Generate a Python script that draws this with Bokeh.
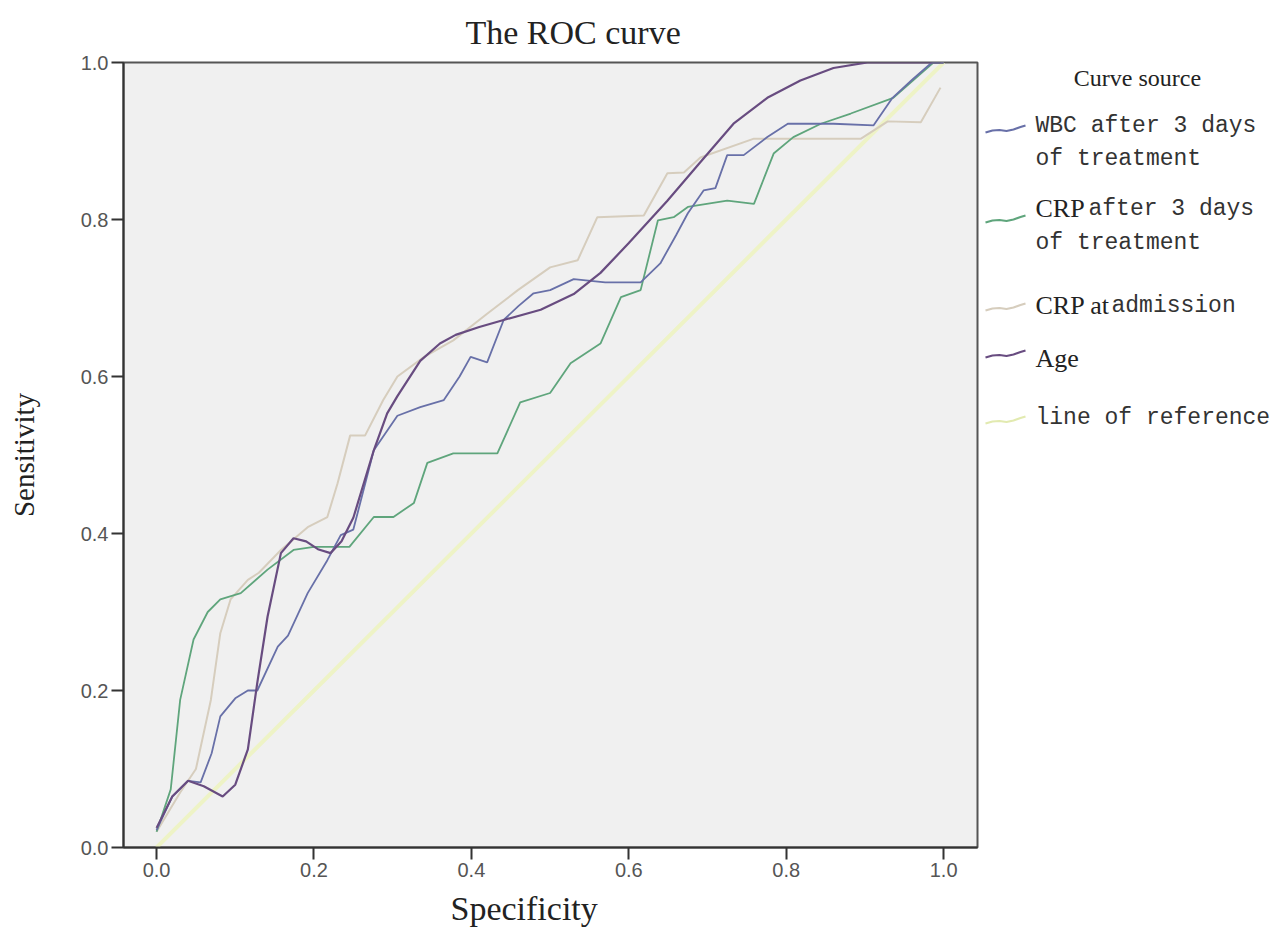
from bokeh.plotting import figure
from bokeh.layouts import row
from bokeh.models import Range1d, FixedTicker, Title
from bokeh.core.properties import value
from bokeh.embed import file_html
from bokeh.resources import INLINE

# ---------------- data ----------------
age_x = [0.0, 0.02, 0.04, 0.06, 0.084, 0.10, 0.116, 0.128, 0.141, 0.158, 0.174, 0.19, 0.205, 0.221,
         0.235, 0.25, 0.276, 0.293, 0.306, 0.335, 0.36, 0.38, 0.41, 0.441, 0.488, 0.53, 0.564, 0.60,
         0.649, 0.69, 0.733, 0.776, 0.818, 0.86, 0.903, 1.0]
age_y = [0.025, 0.065, 0.085, 0.078, 0.065, 0.08, 0.125, 0.21, 0.294, 0.375, 0.394, 0.39, 0.38, 0.375,
         0.39, 0.42, 0.506, 0.553, 0.575, 0.62, 0.642, 0.653, 0.663, 0.672, 0.685, 0.705, 0.732, 0.77,
         0.824, 0.872, 0.922, 0.955, 0.977, 0.993, 1.0, 1.0]

wbc_x = [0.0, 0.02, 0.04, 0.056, 0.07, 0.081, 0.10, 0.116, 0.128, 0.154, 0.167, 0.192, 0.217, 0.234,
         0.25, 0.276, 0.306, 0.335, 0.365, 0.385, 0.399, 0.42, 0.441, 0.46, 0.479, 0.50, 0.53, 0.57,
         0.615, 0.64, 0.66, 0.675, 0.695, 0.71, 0.725, 0.746, 0.776, 0.802, 0.86, 0.911, 0.935, 0.96,
         0.985, 1.0]
wbc_y = [0.022, 0.065, 0.085, 0.083, 0.12, 0.167, 0.19, 0.20, 0.20, 0.256, 0.27, 0.324, 0.366, 0.398,
         0.405, 0.506, 0.55, 0.561, 0.57, 0.60, 0.625, 0.618, 0.672, 0.69, 0.706, 0.71, 0.724, 0.72,
         0.72, 0.744, 0.78, 0.808, 0.837, 0.84, 0.882, 0.882, 0.905, 0.922, 0.922, 0.92, 0.955, 0.978,
         1.0, 1.0]

crp3_x = [0.0, 0.018, 0.03, 0.047, 0.065, 0.081, 0.107, 0.141, 0.174, 0.20, 0.245, 0.276, 0.301, 0.327,
          0.344, 0.377, 0.433, 0.462, 0.50, 0.526, 0.564, 0.59, 0.615, 0.637, 0.657, 0.675, 0.725,
          0.759, 0.784, 0.809, 0.844, 0.882, 0.936, 0.971, 0.987, 1.0]
crp3_y = [0.02, 0.074, 0.188, 0.265, 0.30, 0.316, 0.324, 0.354, 0.379, 0.383, 0.383, 0.421, 0.421, 0.439,
          0.49, 0.502, 0.502, 0.567, 0.579, 0.617, 0.642, 0.701, 0.71, 0.799, 0.803, 0.816, 0.824,
          0.82, 0.884, 0.905, 0.922, 0.935, 0.955, 0.986, 1.0, 1.0]

crpa_x = [0.0, 0.03, 0.05, 0.069, 0.081, 0.094, 0.116, 0.13, 0.158, 0.192, 0.217, 0.23, 0.246, 0.265,
          0.288, 0.306, 0.34, 0.377, 0.42, 0.459, 0.50, 0.535, 0.56, 0.619, 0.649, 0.67, 0.691, 0.759,
          0.895, 0.929, 0.971, 0.996]
crpa_y = [0.02, 0.07, 0.10, 0.188, 0.273, 0.316, 0.341, 0.35, 0.379, 0.408, 0.421, 0.464, 0.525, 0.525,
          0.57, 0.60, 0.625, 0.646, 0.68, 0.71, 0.739, 0.748, 0.803, 0.805, 0.859, 0.86, 0.879, 0.903,
          0.903, 0.925, 0.924, 0.968]

ref_x = [0.0, 1.0]
ref_y = [0.0, 1.0]

ticks = [0.0, 0.2, 0.4, 0.6, 0.8, 1.0]
tick_labels = {0.0: "0.0", 0.2: "0.2", 0.4: "0.4", 0.6: "0.6", 0.8: "0.8", 1.0: "1.0"}

legend_texts = ["WBC after 3 days", "of treatment", "CRP", "after 3 days", "of treatment",
                "CRP at", "admission", "Age", "line of reference"]

C_AGE = "#684c80"
C_WBC = "#6870a8"
C_CRP3 = "#5fa57c"
C_CRPA = "#d6cdbd"
C_REF = "#eef3c6"

H = 941
TOP = 62
BOTTOM = 94

# ---------------- main plot ----------------
p = figure(width=980, height=H, output_backend="svg", toolbar_location=None,
           x_range=Range1d(-0.042, 1.043), y_range=Range1d(0.0, 1.0),
           min_border_left=123, min_border_right=3, min_border_top=TOP, min_border_bottom=BOTTOM)
p.background_fill_color = "#f0f0f0"
p.border_fill_color = "white"
p.outline_line_color = "#555555"
p.outline_line_width = 2
p.grid.visible = False

p.title.text = "The ROC curve"
p.title.align = "left"
p.title.offset = 342
p.title.text_font = "Liberation Serif"
p.title.text_font_style = "normal"
p.title.text_font_size = "34px"
p.title.text_color = "#222222"
p.title.standoff = 23

p.line(ref_x, ref_y, line_color=C_REF, line_width=4)
p.line(crpa_x, crpa_y, line_color=C_CRPA, line_width=2)
p.line(crp3_x, crp3_y, line_color=C_CRP3, line_width=1.8)
p.line(wbc_x, wbc_y, line_color=C_WBC, line_width=1.8)
p.line(age_x, age_y, line_color=C_AGE, line_width=2.2)

for ax in (p.xaxis[0], p.yaxis[0]):
    ax.ticker = FixedTicker(ticks=ticks)
    ax.major_label_overrides = tick_labels
    ax.minor_tick_line_color = None
    ax.major_tick_in = 0
    ax.major_tick_out = 12
    ax.major_tick_line_color = "#333333"
    ax.major_tick_line_width = 2
    ax.axis_line_color = "#333333"
    ax.axis_line_width = 2
    ax.major_label_text_font = "Liberation Sans"
    ax.major_label_text_font_size = "20px"
    ax.major_label_text_color = "#555555"
    ax.major_label_standoff = 3

p.yaxis[0].axis_label = "Sensitivity"
p.yaxis[0].axis_label_text_font = "Liberation Serif"
p.yaxis[0].axis_label_text_font_style = "normal"
p.yaxis[0].axis_label_text_font_size = "29px"
p.yaxis[0].axis_label_text_color = "#222222"
p.yaxis[0].axis_label_standoff = 38

xlabel = Title(text="Specificity", align="left", offset=327,
               text_font="Liberation Serif", text_font_style="normal", text_font_size="34px",
               text_color="#222222", standoff=17)
p.add_layout(xlabel, "below")

# ---------------- legend panel (frame aligned with main frame: page y 62..847) ----------------
lg = figure(width=290, height=H, output_backend="svg", toolbar_location=None,
            x_range=Range1d(0, 290), y_range=Range1d(H - BOTTOM, TOP),
            x_axis_location=None, y_axis_location=None,
            min_border=0, min_border_left=0, min_border_right=0,
            min_border_top=TOP, min_border_bottom=BOTTOM)
lg.title = None
lg.grid.visible = False
lg.outline_line_color = None
lg.background_fill_color = "white"
lg.border_fill_color = "white"

lg.text([157], [77], text=["Curve source"], text_align="center", text_baseline="middle",
        text_font=value("Liberation Serif"), text_font_size="24px", text_color="#222222")

sw_colors = [C_WBC, C_CRP3, C_CRPA, C_AGE, "#e2eab0"]
sw_y = [129, 219, 307, 354, 420]
for c, yy in zip(sw_colors, sw_y):
    xs = [5, 12, 19, 26, 33, 40, 45]
    ys = [yy + 3, yy + 1, yy + 0.5, yy + 1.5, yy + 0, yy - 2.5, yy - 4]
    lg.line(xs, ys, line_color=c, line_width=2.2)

mono = value("Liberation Mono")
serif = value("Liberation Serif")
lg.text([55, 55], [125, 158], text=[legend_texts[0], legend_texts[1]], text_baseline="middle",
        text_font=mono, text_font_size="23px", text_color="#333333")
lg.text([55], [208], text=[legend_texts[2]], text_baseline="middle",
        text_font=serif, text_font_size="26px", text_color="#222222")
lg.text([108], [208], text=[legend_texts[3]], text_baseline="middle",
        text_font=mono, text_font_size="23px", text_color="#333333")
lg.text([55], [242], text=[legend_texts[4]], text_baseline="middle",
        text_font=mono, text_font_size="23px", text_color="#333333")
lg.text([55], [305], text=[legend_texts[5]], text_baseline="middle",
        text_font=serif, text_font_size="26px", text_color="#222222")
lg.text([131], [305], text=[legend_texts[6]], text_baseline="middle",
        text_font=mono, text_font_size="23px", text_color="#333333")
lg.text([55], [358], text=[legend_texts[7]], text_baseline="middle",
        text_font=serif, text_font_size="26px", text_color="#222222")
lg.text([55], [417], text=[legend_texts[8]], text_baseline="middle",
        text_font=mono, text_font_size="23px", text_color="#333333")

layout = row(p, lg)
open("out.html", "w").write(file_html(layout, INLINE))
